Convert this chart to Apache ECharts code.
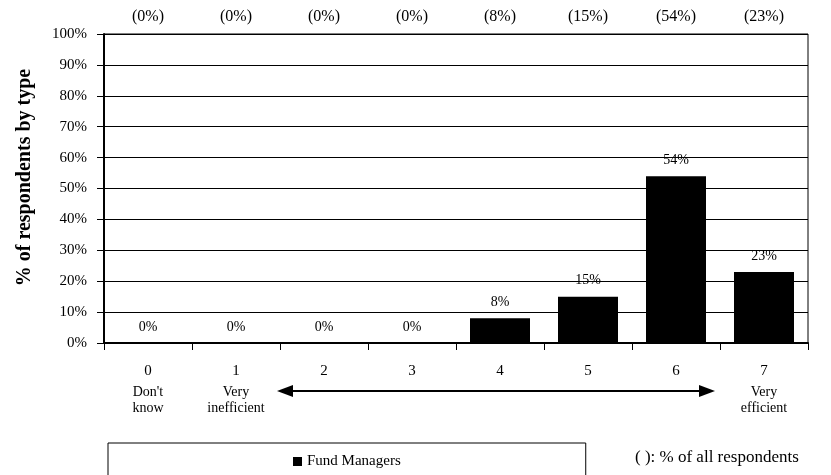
<!DOCTYPE html>
<html>
<head>
<meta charset="utf-8">
<script src="https://cdn.jsdelivr.net/npm/echarts@6/dist/echarts.min.js"></script>
<style>
  html, body { margin: 0; padding: 0; background: #fff; }
  #chart { width: 831px; height: 475px; }
</style>
</head>
<body>
<div id="chart"></div>
<script>
// categories on the rating scale, and the descriptive text under some of them
var categories = ['0', '1', '2', '3', '4', '5', '6', '7']
var subLabels = ["Don't\nknow", 'Very\ninefficient', '', '', '', '', '', 'Very\nefficient']
// % of fund managers per rating
var fundManagers = [0, 0, 0, 0, 8, 15, 54, 23]
// % of all respondents, shown in brackets along the top
var allRespondents = ['(0%)', '(0%)', '(0%)', '(0%)', '(8%)', '(15%)', '(54%)', '(23%)']

var font = '"Liberation Serif", "Times New Roman", serif'
var chart = echarts.init(document.getElementById('chart'))

var option = {
  animation: false,
  backgroundColor: '#fff',
  textStyle: { fontFamily: font, color: '#000' },
  grid: {
    left: 104,
    right: 23,
    top: 34,
    bottom: 132,
    containLabel: false,
    outerBoundsMode: 'none',
    show: true,
    borderColor: '#000',
    borderWidth: 1,
    backgroundColor: 'transparent'
  },
  legend: {
    data: ['Fund Managers'],
    left: 108,
    top: 443,
    padding: [11, 185, 30, 185],
    borderColor: '#000',
    borderWidth: 1,
    icon: 'rect',
    itemWidth: 9,
    itemHeight: 9,
    itemGap: 6,
    textStyle: { fontFamily: font, fontSize: 15, color: '#000' }
  },
  xAxis: [
    {
      type: 'category',
      data: categories,
      position: 'bottom',
      axisLine: { lineStyle: { color: '#000', width: 2 } },
      axisTick: { show: true, length: 7, lineStyle: { color: '#000', width: 1 } },
      axisLabel: {
        margin: 15,
        interval: 0,
        formatter: function (v, i) {
          var s = '{n|' + v + '}'
          if (subLabels[i]) {
            s += '\n' + subLabels[i].split('\n').map(function (t) { return '{s|' + t + '}' }).join('\n')
          }
          return s
        },
        rich: {
          n: { fontFamily: font, fontSize: 15, color: '#000', lineHeight: 26 },
          s: { fontFamily: font, fontSize: 14, color: '#000', lineHeight: 16 }
        }
      }
    },
    {
      type: 'category',
      data: categories,
      position: 'top',
      axisLine: { show: false },
      axisTick: { show: false },
      axisLabel: {
        margin: 9,
        interval: 0,
        fontSize: 16,
        color: '#000',
        fontFamily: font,
        formatter: function (v, i) { return allRespondents[i] }
      }
    }
  ],
  yAxis: {
    type: 'value',
    min: 0,
    max: 100,
    interval: 10,
    name: '% of respondents by type',
    nameLocation: 'middle',
    nameGap: 69,
    nameTextStyle: {
      fontFamily: font,
      fontSize: 20,
      fontWeight: 'bold',
      color: '#000',
      padding: [0, 0, 0, 22]
    },
    axisLine: { show: true, lineStyle: { color: '#000', width: 2 } },
    axisTick: { show: true, length: 7, lineStyle: { color: '#000' } },
    axisLabel: { formatter: '{value}%', fontSize: 15, color: '#000', fontFamily: font, margin: 17 },
    splitLine: { show: true, lineStyle: { color: '#000', width: 1 } }
  },
  series: [
    {
      name: 'Fund Managers',
      type: 'bar',
      data: fundManagers,
      barWidth: 60,
      itemStyle: { color: '#000' },
      label: {
        show: true,
        position: 'top',
        distance: 9,
        formatter: '{c}%',
        fontFamily: font,
        fontSize: 14,
        color: '#000'
      }
    }
  ],
  graphic: [
    {
      type: 'line',
      shape: { x1: 290, y1: 391, x2: 703, y2: 391 },
      style: { stroke: '#000', lineWidth: 2 }
    },
    {
      type: 'polygon',
      shape: { points: [[277, 391], [293, 385], [293, 397]] },
      style: { fill: '#000' }
    },
    {
      type: 'polygon',
      shape: { points: [[715, 391], [699, 385], [699, 397]] },
      style: { fill: '#000' }
    },
    {
      type: 'text',
      left: 635,
      top: 449,
      style: { text: '( ): % of all respondents', font: '17px ' + font, fill: '#000' }
    }
  ]
}

chart.setOption(option)
</script>
</body>
</html>
